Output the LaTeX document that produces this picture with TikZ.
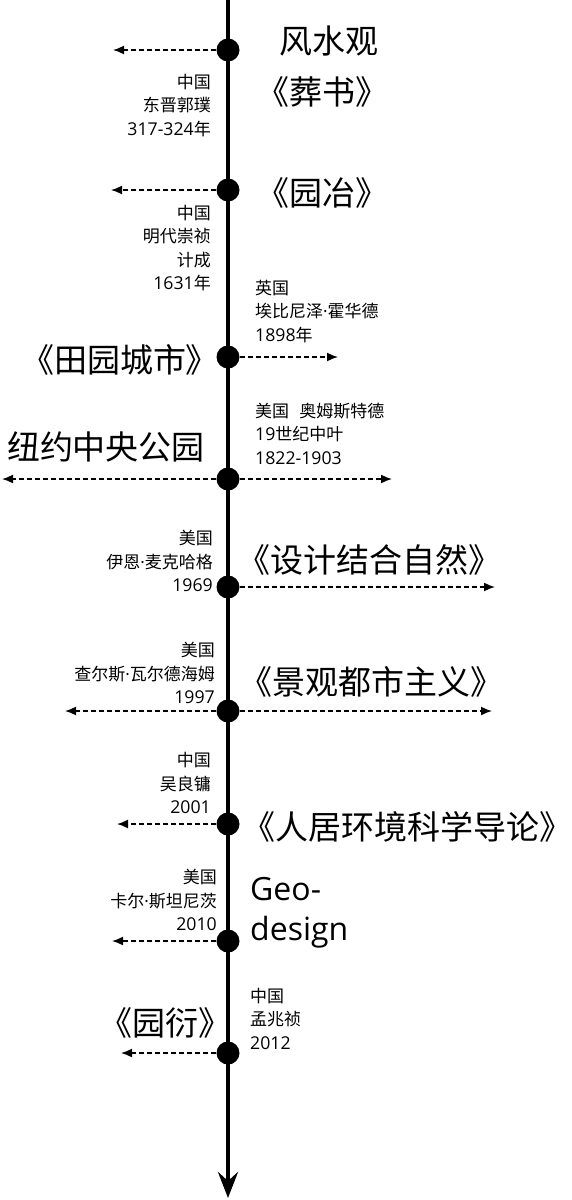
\documentclass[tikz,border=0pt]{standalone}
\usepackage{fontspec}
\setmainfont{Noto Sans CJK SC}
\newfontfamily\geofont{Open Sans}
\newfontfamily\numfont[Scale=1.04]{Open Sans}
\newcommand{\yr}[1]{{\numfont #1}}
\newcommand{\mdot}{{\geofont ·}}
\usetikzlibrary{arrows.meta,positioning}

\tikzset{
  dot/.style={circle, fill=black, inner sep=0pt, minimum size=23pt},
  link/.style={->, dash pattern=on 5pt off 3pt, line width=1.6pt},
  axis/.style={-{Stealth[length=26pt,width=20pt,inset=9pt]}, line width=4.5pt},
  book/.style={inner sep=0pt, font=\fontsize{33}{40}\selectfont},
  note/.style={inner sep=0pt, font=\fontsize{17}{23.5}\selectfont},
}

\begin{document}
\begin{tikzpicture}[>={Latex[length=11pt,width=9pt]}, x=1pt, y=-1pt]
\useasboundingbox (0,0) rectangle (571,1200);
% time axis
\coordinate (top) at (228,0);
\coordinate (bottom) at (228,1198);
\draw[axis] (top) -- (bottom);

% Fengshui
\node[dot] (D1) at (228,50) {};
\coordinate [left of=D1, node distance=115pt] (E1);
\draw[link] (D1) -- (E1);
\node[book] (T1a) at (329,41) {风水观};
\node[book] (T1b) at (322,92) {《葬书》};
\node[note, anchor=east, align=right] (N1) at (211,105.5) {中国\\东晋郭璞\\\yr{317-324}年};

% Yuanye
\node[dot] (D2) at (228,190) {};
\coordinate [left of=D2, node distance=117pt] (E2);
\draw[link] (D2) -- (E2);
\node[book] (T2) at (322,193) {《园冶》};
\node[note, anchor=east, align=right] (N2) at (211,248) {中国\\明代崇祯\\计成\\\yr{1631}年};

% Garden city
\node[dot] (D3) at (228,357) {};
\coordinate [right of=D3, node distance=110pt] (E3);
\draw[link] (D3) -- (E3);
\node[book] (T3) at (120,360) {《田园城市》};
\node[note, anchor=west, align=left] (N3) at (255,311.5) {英国\\埃比尼泽\mdot 霍华德\\\yr{1898}年};

% Central Park
\node[dot] (D4) at (228,479) {};
\coordinate [left of=D4, node distance=226pt] (E4a);
\coordinate [right of=D4, node distance=164pt] (E4b);
\draw[link] (D4) -- (E4a);
\draw[link] (D4) -- (E4b);
\node[book] (T4) at (106,447) {纽约中央公园};
\node[note, anchor=west, align=left] (N4) at (255,433.5) {美国\hspace{0.6em}奥姆斯特德\\\yr{19}世纪中叶\\\yr{1822-1903}};

% Design with nature
\node[dot] (D5) at (228,587) {};
\coordinate [right of=D5, node distance=267pt] (E5);
\draw[link] (D5) -- (E5);
\node[book] (T5) at (369,560) {《设计结合自然》};
\node[note, anchor=east, align=right] (N5) at (213,561) {美国\\伊恩\mdot 麦克哈格\\\yr{1969}};

% Landscape urbanism
\node[dot] (D6) at (228,711) {};
\coordinate [left of=D6, node distance=163pt] (E6a);
\coordinate [right of=D6, node distance=264pt] (E6b);
\draw[link] (D6) -- (E6a);
\draw[link] (D6) -- (E6b);
\node[book] (T6) at (371,682) {《景观都市主义》};
\node[note, anchor=east, align=right] (N6) at (215,673) {美国\\查尔斯\mdot 瓦尔德海姆\\\yr{1997}};

% Human settlements
\node[dot] (D7) at (228,824) {};
\coordinate [left of=D7, node distance=111pt] (E7);
\draw[link] (D7) -- (E7);
\node[book] (T7) at (407,827) {《人居环境科学导论》};
\node[note, anchor=east, align=right] (N7) at (211,783) {中国\\吴良镛\\\yr{2001}};

% Geodesign
\node[dot] (D8) at (228,941) {};
\coordinate [left of=D8, node distance=116pt] (E8);
\draw[link] (D8) -- (E8);
\node[book, anchor=west, align=left, font=\geofont\fontsize{32}{40}\selectfont] (T8) at (250,913) {Geo-\\design};
\node[note, anchor=east, align=right] (N8) at (217,900) {美国\\卡尔\mdot 斯坦尼茨\\\yr{2010}};

% Yuanyan
\node[dot] (D9) at (228,1053) {};
\coordinate [left of=D9, node distance=107pt] (E9);
\draw[link] (D9) -- (E9);
\node[book] (T9) at (165,1023) {《园衍》};
\node[note, anchor=west, align=left] (N9) at (250,1018.5) {中国\\孟兆祯\\\yr{2012}};
\end{tikzpicture}
\end{document}
